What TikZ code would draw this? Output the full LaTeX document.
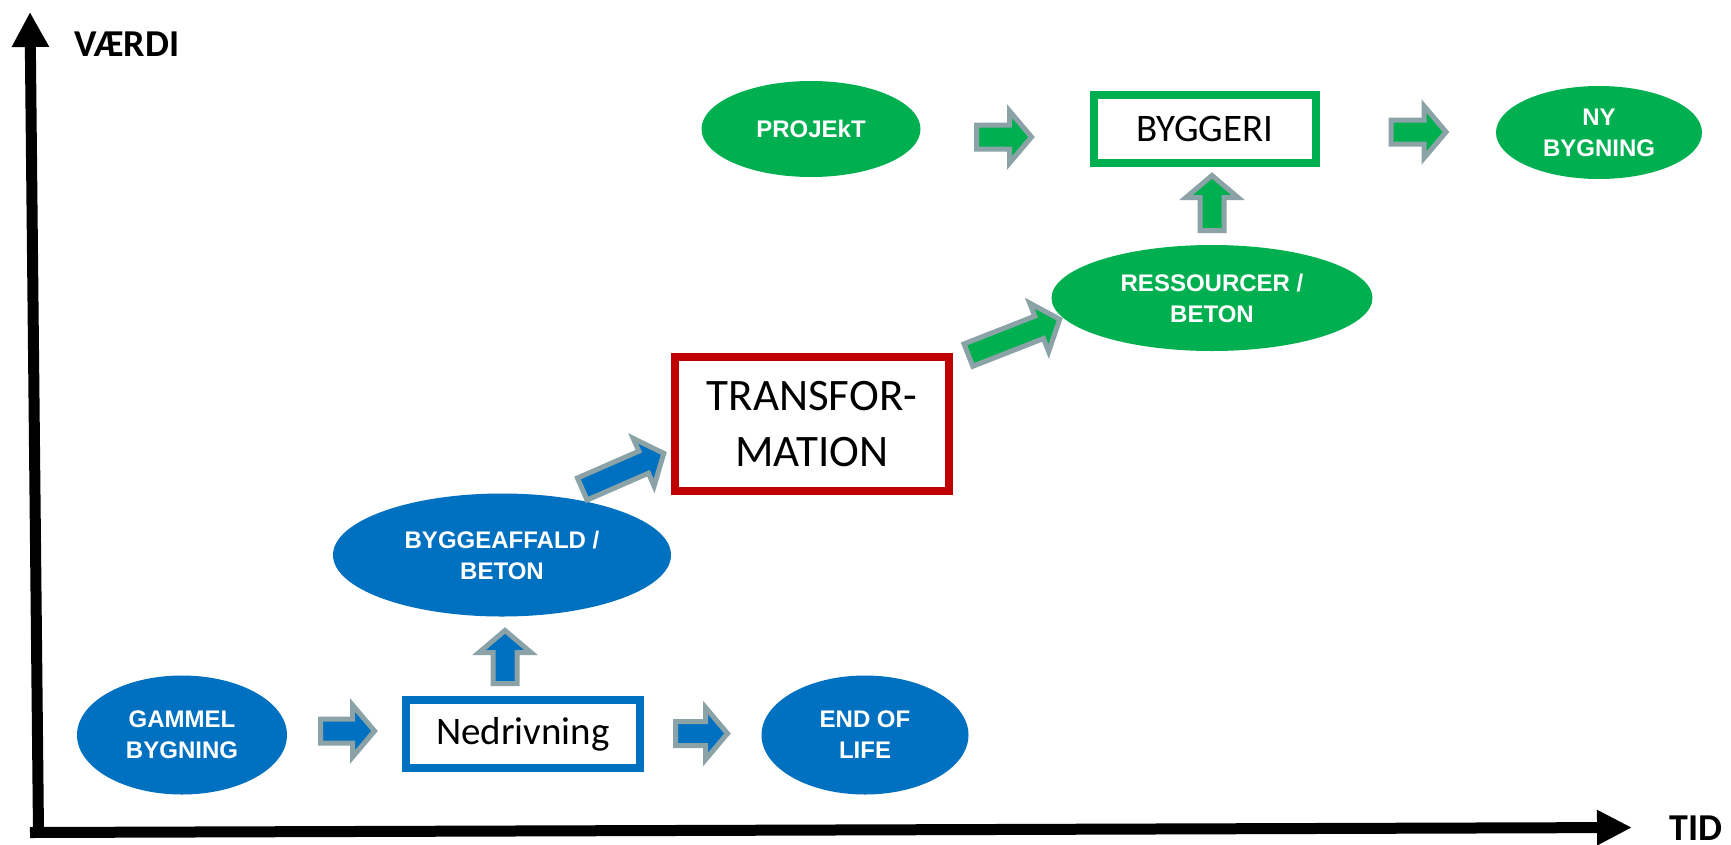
\documentclass[tikz,border=0pt]{standalone}
\usepackage{fontspec}
\setmainfont{Carlito}
\newfontfamily\lsans{Liberation Sans}
\usetikzlibrary{shapes.geometric,arrows.meta}
\definecolor{cblue}{RGB}{0,112,192}
\definecolor{cgreen}{RGB}{0,176,80}
\definecolor{cred}{RGB}{192,0,0}
\definecolor{cgray}{RGB}{139,162,166}
\tikzset{
  blob/.style={ellipse, draw=none, inner sep=0pt, text=white, align=center,
    font=\lsans\bfseries\fontsize{24}{31}\selectfont},
  bluebl/.style={blob, fill=cblue},
  greenbl/.style={blob, fill=cgreen},
  stepbox/.style={rectangle, line width=8pt, fill=white, inner sep=0pt, align=center,
    font=\fontsize{39}{47}\selectfont},
  axislabel/.style={font=\bfseries\fontsize{38}{44}\selectfont, inner sep=0pt},
  axisline/.style={line width=11pt, black},
  arrowline/.style={line width=5pt, draw=cgray, line join=miter}
}
\newcommand{\blkarrow}[5]{%
  \begin{scope}[shift={(#1,#2)}, rotate=#3]
    \pgfmathsetmacro\hh{#4/2}
    \filldraw[arrowline, fill=#5] (-\hh+2.5,-12) -- (\hh-25.5,-12) -- (\hh-25.5,-26)
      -- (\hh-3.5,0) -- (\hh-25.5,26) -- (\hh-25.5,12) -- (-\hh+2.5,12) -- cycle;
  \end{scope}}
\begin{document}
\begin{tikzpicture}[x=1pt,y=-1pt]
\useasboundingbox (0,0) rectangle (1731,844);
\fill[white] (0,0) rectangle (1731,844);

% axes
\coordinate (orig) at (38.5,832.5);
\coordinate (ytop) at (30,12);
\coordinate (xleft) at (30,832.5);
\coordinate (xend) at (1632,827.5);
\draw[axisline, -{Triangle[width=35pt,length=35pt]}] (orig) -- (ytop);
\draw[axisline, -{Triangle[width=33pt,length=35pt]}] (xleft) -- (xend);
\node[axislabel] (vaerdi) at (127,44) {VÆRDI};
\node[axislabel] (tid) at (1696,828) {TID};

% blue row
\node[bluebl, minimum width=210pt, minimum height=119pt] (gammel) at (182,735) {GAMMEL\\BYGNING};
\node[stepbox, draw=cblue, minimum width=234pt, minimum height=68pt] (nedriv) at (523,734) {Nedrivning};
\node[bluebl, minimum width=207pt, minimum height=119pt] (eol) at (865,735) {END OF\\LIFE};
\node[bluebl, minimum width=338pt, minimum height=123pt] (affald) at (502,555) {BYGGEAFFALD /\\BETON};

% transformation
\node[stepbox, draw=cred, minimum width=274pt, minimum height=134pt,
  font=\fontsize{45}{56}\selectfont] (trans) at (812,424) {TRANSFOR-\\MATION};

% green row
\node[greenbl, minimum width=321pt, minimum height=106pt] (ress) at (1212,298) {RESSOURCER /\\BETON};
\node[greenbl, minimum width=219pt, minimum height=96pt] (projekt) at (811,129) {PROJEkT};
\node[stepbox, draw=cgreen, minimum width=222pt, minimum height=68pt] (byggeri) at (1205,129) {BYGGERI};
\node[greenbl, minimum width=206pt, minimum height=93pt] (ny) at (1599,132.5) {NY\\BYGNING};

% block arrows
\blkarrow{348}{731}{0}{60}{cblue}
\blkarrow{505}{656.5}{90}{59}{cblue}
\blkarrow{702}{733.5}{0}{58}{cblue}
\blkarrow{623.5}{471}{23.6}{95}{cblue}
\blkarrow{1014.5}{337}{21.4}{104}{cgreen}
\blkarrow{1004.5}{137}{0}{61}{cgreen}
\blkarrow{1212}{202.5}{90}{61}{cgreen}
\blkarrow{1419}{132}{0}{61}{cgreen}
\end{tikzpicture}
\end{document}
